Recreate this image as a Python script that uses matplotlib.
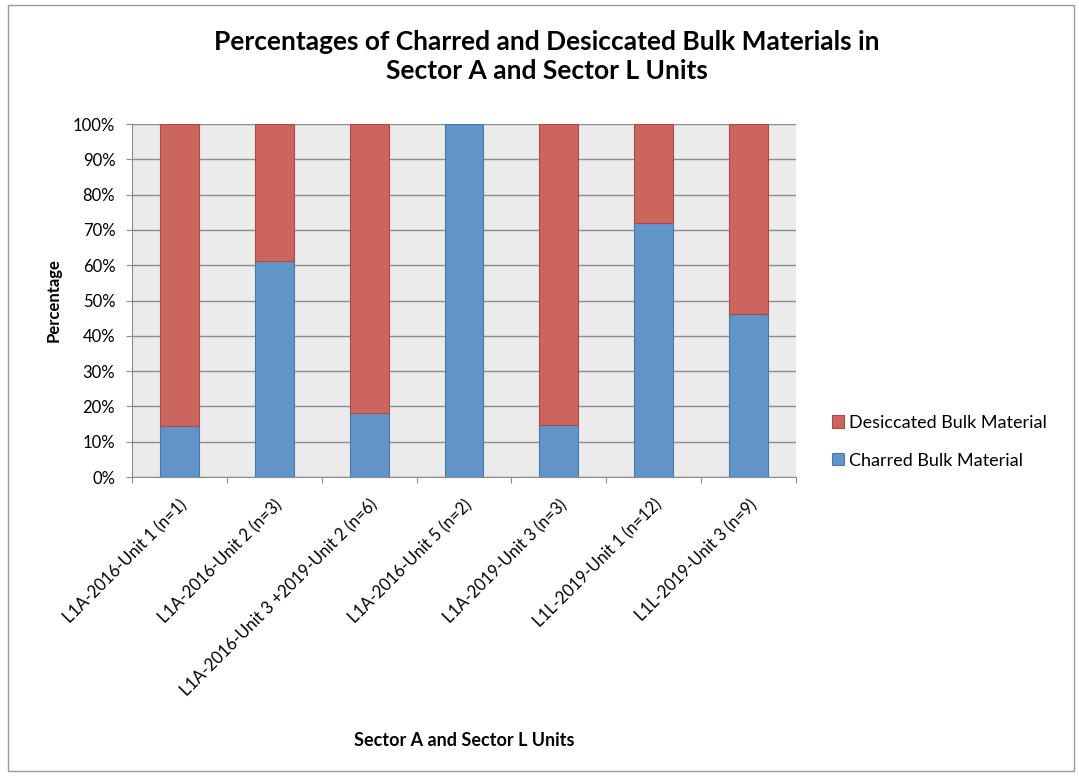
import numpy as np
import matplotlib.pyplot as plt
from matplotlib.patches import Rectangle

# datos de las unidades
units = ['L1A-2016-Unit 1 (n=1)', 'L1A-2016-Unit 2 (n=3)',
         'L1A-2016-Unit 3 +2019-Unit 2 (n=6)', 'L1A-2016-Unit 5 (n=2)',
         'L1A-2019-Unit 3 (n=3)', 'L1L-2019-Unit 1 (n=12)',
         'L1L-2019-Unit 3 (n=9)']
charred = [14.4, 61.2, 18.1, 100.0, 14.7, 72.0, 46.3]
desiccated = [100 - c for c in charred]

plt.rcParams['font.family'] = ['Lato', 'DejaVu Sans']

fig = plt.figure(figsize=(10.79, 7.77), dpi=100)
# marco exterior gris
fig.patches.append(Rectangle((0.007, 0.008), 0.988, 0.985, transform=fig.transFigure,
                             fill=False, edgecolor='#9a9a9a', linewidth=1.0))

ax = fig.add_axes([0.1223, 0.3861, 0.6154, 0.4543])
ax.set_facecolor('#ebebeb')

x = np.arange(len(units))
w = 0.41
b1 = ax.bar(x, charred, w, color='#6195c9', edgecolor='#4a78a8', linewidth=0.8,
            label='Charred Bulk Material', zorder=3)
# sin borde en las barras de altura cero
lw2 = [0.8 if d > 0 else 0 for d in desiccated]
b2 = ax.bar(x, desiccated, w, bottom=charred, color='#cd655f', edgecolor='#a84a46',
            linewidth=lw2, label='Desiccated Bulk Material', zorder=3)

ax.set_xlim(-0.5, len(units) - 0.5)
ax.set_ylim(0, 100)
ax.set_yticks(np.arange(0, 101, 10))
ax.set_yticklabels([f'{v}%' for v in range(0, 101, 10)], fontsize=12)
ax.yaxis.grid(True, color='#8c8c8c', linewidth=1.0, zorder=0)
ax.set_axisbelow(True)

# marcas del eje x en los limites de cada categoria
ax.set_xticks(np.arange(-0.5, len(units), 1.0))
ax.set_xticklabels([])
ax.set_xticks(x, minor=True)
ax.set_xticklabels(units, minor=True, rotation=45, ha='right', rotation_mode='anchor',
                   fontsize=12)
ax.tick_params(axis='x', which='minor', length=0, pad=14)
ax.tick_params(axis='x', which='major', length=4, color='#8c8c8c')
ax.tick_params(axis='y', length=4, color='#8c8c8c', pad=8)

for s in ['top', 'right']:
    ax.spines[s].set_visible(False)
for s in ['left', 'bottom']:
    ax.spines[s].set_color('#8c8c8c')

ax.set_ylabel('Percentage', fontsize=12, fontweight='bold', labelpad=8)
fig.text(0.430, 0.047, 'Sector A and Sector L Units', fontsize=13, fontweight='bold',
         ha='center', va='center')
fig.suptitle('Percentages of Charred and Desiccated Bulk Materials in\nSector A and Sector L Units',
             x=0.507, y=0.962, fontsize=19, fontweight='bold', linespacing=1.25)

handles = [b2, b1]
ax.legend(handles, [h.get_label() for h in handles], loc='center left',
          bbox_to_anchor=(1.03, 0.1), frameon=False, fontsize=13,
          handlelength=0.65, handleheight=0.65, handletextpad=0.3, labelspacing=1.2)

fig.savefig('out.png', dpi=100)
